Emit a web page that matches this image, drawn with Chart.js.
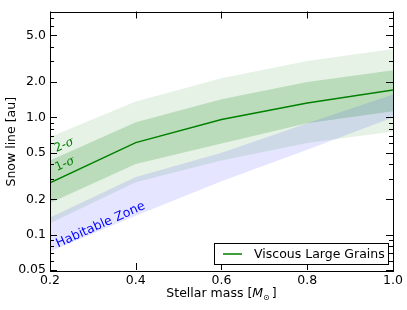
<!DOCTYPE html>
<html>
<head>
<meta charset="utf-8">
<script src="https://cdn.jsdelivr.net/npm/chart.js@4"></script>
<style>
  html, body { margin: 0; padding: 0; background: #fff; }
  #wrap { width: 407px; height: 310px; }
</style>
</head>
<body>
<div id="wrap"><canvas id="snowChart" width="407" height="310"></canvas></div>
<script>
// data
const masses = [0.2, 0.4, 0.6, 0.8, 1.0];
const snowLine = [0.277, 0.61, 0.96, 1.33, 1.71];
const sigma1Upper = [0.43, 0.91, 1.43, 2.0, 2.53];
const sigma1Lower = [0.186, 0.40, 0.60, 0.89, 1.13];
const sigma2Upper = [0.68, 1.37, 2.16, 3.03, 3.84];
const sigma2Lower = [0.125, 0.28, 0.43, 0.605, 0.76];
const hzOuter = [0.14, 0.31, 0.50, 0.89, 1.57];
const hzInner = [0.072, 0.145, 0.285, 0.53, 1.0];

const xTickValues = [0.2, 0.4, 0.6, 0.8, 1.0];
const yLabelValues = [0.05, 0.1, 0.2, 0.5, 1, 2, 5];
const yLabelText = ['0.05', '0.1', '0.2', '0.5', '1.0', '2.0', '5.0'];
const yMinorValues = [0.06, 0.07, 0.08, 0.09, 0.3, 0.4, 0.6, 0.7, 0.8, 0.9, 3, 4, 6, 7, 8];

const FONT = '"DejaVu Sans", sans-serif';
const GREEN = '#008000';

const pts = arr => masses.map((m, i) => ({ x: m, y: arr[i] }));
const findLabel = v => {
    const i = yLabelValues.findIndex(l => Math.abs(l - v) < 1e-9);
    return i < 0 ? '' : yLabelText[i];
};

function band(data, fill, color, order) {
    return {
        data: pts(data), fill: fill, backgroundColor: color,
        borderWidth: 0, pointRadius: 0, tension: 0, order: order
    };
}

// inward ticks, frame, titles, annotations, legend
const decorPlugin = {
    id: 'decor',
    afterDraw(chart) {
        const ctx = chart.ctx;
        const a = chart.chartArea;
        const xs = chart.scales.x, ys = chart.scales.y;
        ctx.save();

        // frame
        ctx.strokeStyle = '#000';
        ctx.lineWidth = 1;
        ctx.strokeRect(Math.round(a.left) + 0.5, Math.round(a.top) + 0.5,
            Math.round(a.right - a.left), Math.round(a.bottom - a.top));

        // ticks on all four sides, pointing in
        ctx.beginPath();
        xs.ticks.forEach(t => {
            const px = Math.round(xs.getPixelForValue(t.value)) + 0.5;
            ctx.moveTo(px, a.bottom); ctx.lineTo(px, a.bottom - 7);
            ctx.moveTo(px, a.top); ctx.lineTo(px, a.top + 7);
        });
        ys.ticks.forEach(t => {
            const py = Math.round(ys.getPixelForValue(t.value)) + 0.5;
            const len = findLabel(t.value) ? 7 : 4;
            ctx.moveTo(a.left, py); ctx.lineTo(a.left + len, py);
            ctx.moveTo(a.right, py); ctx.lineTo(a.right - len, py);
        });
        ctx.stroke();

        // axis titles
        ctx.fillStyle = '#000';
        ctx.textBaseline = 'middle';
        ctx.save();
        ctx.translate(12, (a.top + a.bottom) / 2 + 1);
        ctx.rotate(-Math.PI / 2);
        ctx.textAlign = 'center';
        ctx.font = '12.5px ' + FONT;
        ctx.fillText('Snow line [au]', 0, 0);
        ctx.restore();

        const parts = [
            { t: 'Stellar mass [', f: '12.5px ' + FONT, dy: 0 },
            { t: 'M', f: 'italic 12.5px ' + FONT, dy: 0 },
            { t: '\u2299', f: '8px ' + FONT, dy: 4 },
            { t: ']', f: '12.5px ' + FONT, dy: 0 }
        ];
        let total = 0;
        parts.forEach(p => { ctx.font = p.f; p.w = ctx.measureText(p.t).width; total += p.w + (p.t === '\u2299' ? 2 : 0); });
        let cx = (a.left + a.right) / 2 - total / 2;
        ctx.textAlign = 'left';
        parts.forEach(p => {
            ctx.font = p.f;
            ctx.fillText(p.t, cx, 294 + p.dy);
            cx += p.w + (p.t === '\u2299' ? 2 : 0);
        });

        // band annotations
        const note = (parts, xv, yv, deg, color) => {
            ctx.save();
            ctx.translate(xs.getPixelForValue(xv), ys.getPixelForValue(yv));
            ctx.rotate(deg * Math.PI / 180);
            ctx.fillStyle = color;
            ctx.textBaseline = 'middle';
            let w = 0;
            parts.forEach(p => { ctx.font = p[1]; w += ctx.measureText(p[0]).width; });
            let px = -w / 2;
            parts.forEach(p => {
                ctx.font = p[1];
                ctx.fillText(p[0], px, 0);
                px += ctx.measureText(p[0]).width;
            });
            ctx.restore();
        };
        note([['2-', '12px ' + FONT], ['\u03c3', 'italic 12px "DejaVu Serif", serif']], 0.233, 0.58, -24, GREEN);
        note([['1-', '12px ' + FONT], ['\u03c3', 'italic 12px "DejaVu Serif", serif']], 0.235, 0.40, -24, GREEN);
        note([['Habitable Zone', '12.5px ' + FONT]], 0.318, 0.121, -24, '#0000ff');

        // legend box in lower right
        const lx = a.right - 179, ly = a.bottom - 27, lw = 174, lh = 21;
        ctx.fillStyle = '#fff';
        ctx.fillRect(lx, ly, lw, lh);
        ctx.strokeStyle = '#000';
        ctx.lineWidth = 1;
        ctx.strokeRect(Math.round(lx) + 0.5, Math.round(ly) + 0.5, lw, lh);
        ctx.strokeStyle = GREEN;
        ctx.lineWidth = 1.5;
        ctx.beginPath();
        ctx.moveTo(lx + 9, ly + lh / 2 + 0.5);
        ctx.lineTo(lx + 28, ly + lh / 2 + 0.5);
        ctx.stroke();
        ctx.fillStyle = '#000';
        ctx.font = '12.5px ' + FONT;
        ctx.textAlign = 'left';
        ctx.textBaseline = 'middle';
        ctx.fillText('Viscous Large Grains', lx + 40, ly + lh / 2 + 1);

        ctx.restore();
    }
};

const ctx = document.getElementById('snowChart').getContext('2d');
const chart = new Chart(ctx, {
    type: 'line',
    data: {
        datasets: [
            {
                label: 'Viscous Large Grains', data: pts(snowLine),
                borderColor: GREEN, borderWidth: 1.5, pointRadius: 0,
                fill: false, tension: 0, order: 0
            },
            band(sigma2Upper, '+1', 'rgba(0,128,0,0.1)', 5),
            band(sigma2Lower, false, 'transparent', 6),
            band(sigma1Upper, '+1', 'rgba(0,128,0,0.19)', 3),
            band(sigma1Lower, false, 'transparent', 4),
            band(hzOuter, '+1', 'rgba(0,0,255,0.1)', 1),
            band(hzInner, false, 'transparent', 2)
        ]
    },
    options: {
        responsive: false,
        animation: false,
        layout: { padding: { left: 0, right: 14, top: 5, bottom: 0 } },
        plugins: { legend: { display: false }, tooltip: { enabled: false } },
        scales: {
            x: {
                type: 'linear', min: 0.2, max: 1.0,
                afterBuildTicks: s => { s.ticks = xTickValues.map(v => ({ value: v })); },
                afterFit: s => { s.height = 40; },
                grid: { display: false, drawTicks: false },
                border: { display: false },
                ticks: {
                    autoSkip: false, maxRotation: 0, padding: 3, color: '#000',
                    font: { family: FONT, size: 12.5 },
                    callback: v => v.toFixed(1)
                }
            },
            y: {
                type: 'logarithmic', min: 0.05, max: 8,
                afterBuildTicks: s => {
                    s.ticks = yLabelValues.concat(yMinorValues)
                        .sort((p, q) => p - q)
                        .map(v => ({ value: v }));
                },
                afterFit: s => { s.width = 50; },
                grid: { display: false, drawTicks: false },
                border: { display: false },
                ticks: {
                    autoSkip: false, padding: 4, color: '#000',
                    font: { family: FONT, size: 12.5 },
                    callback: v => findLabel(v)
                }
            }
        }
    },
    plugins: [decorPlugin]
});
</script>
</body>
</html>
